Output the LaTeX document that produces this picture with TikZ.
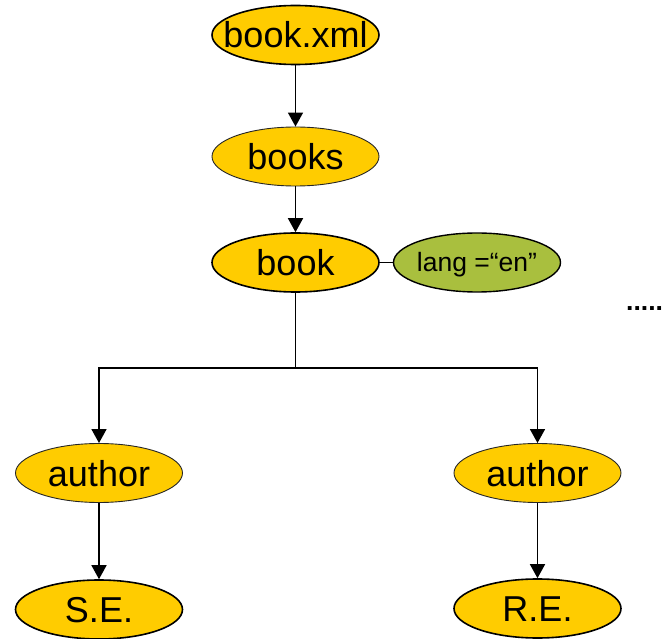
\documentclass[tikz,border=0pt]{standalone}
\usepackage{fontspec}
\setmainfont{Liberation Sans}
\usetikzlibrary{shapes.geometric,arrows.meta}
\definecolor{nodegold}{HTML}{FFCC00}
\definecolor{attrgreen}{HTML}{A9BF3E}
\tikzset{
  elem/.style={ellipse, draw=black, line width=1.6pt, fill=nodegold,
    minimum width=167pt, minimum height=59pt, inner sep=0pt},
  thinelem/.style={elem, line width=0.9pt, draw=black!85},
  attr/.style={elem, fill=attrgreen, line width=1.4pt},
  bigtext/.style={label={[font=\fontsize{36}{40}\selectfont, text height=26pt, text depth=0pt, inner sep=0pt, anchor=center]center:#1}},
  smalltext/.style={label={[font=\fontsize{26.5}{30}\selectfont, text height=19pt, text depth=0pt, inner sep=0pt, anchor=center]center:#1}},
  link/.style={line width=1.5pt},
  arrow/.style={link, -{Triangle[width=15pt,length=14pt]}},
}
\begin{document}
\begin{tikzpicture}[x=1pt, y=-1pt]
  \useasboundingbox (0,0) rectangle (665,639);
  % document tree
  \node[elem, bigtext={book.xml}] (doc) at (295.5,35) {};
  \node[thinelem, bigtext={books}] (books) at (295.5,156.5) {};
  \node[elem, bigtext={book}] (book) at (295.5,262.5) {};
  \node[attr, smalltext={lang =“en”}] (lang) at (477,262.5) {};
  \node[thinelem, bigtext={author}] (authL) at (99,473) {};
  \node[thinelem, bigtext={author}] (authR) at (537.5,473) {};
  \node[elem, bigtext={S.E.}] (se) at (99,609.5) {};
  \node[elem, bigtext={R.E.}] (re) at (537.5,608.5) {};
  \node[font=\bfseries\fontsize{26.5}{30}\selectfont, anchor=base west, inner sep=0pt] (more) at (626,311) {.....};
  % connectors
  \coordinate (fork) at (295.5,368);
  \draw[arrow] (doc) -- (books);
  \draw[arrow] (books) -- (book);
  \draw[line width=1pt] (book) -- (lang);
  \draw[link] (book.south) -- (fork);
  \draw[arrow] (fork) -| (authL.north);
  \draw[arrow] (fork) -| (authR.north);
  \draw[arrow] (authL) -- (se);
  \draw[arrow] (authR) -- (re);
\end{tikzpicture}
\end{document}
